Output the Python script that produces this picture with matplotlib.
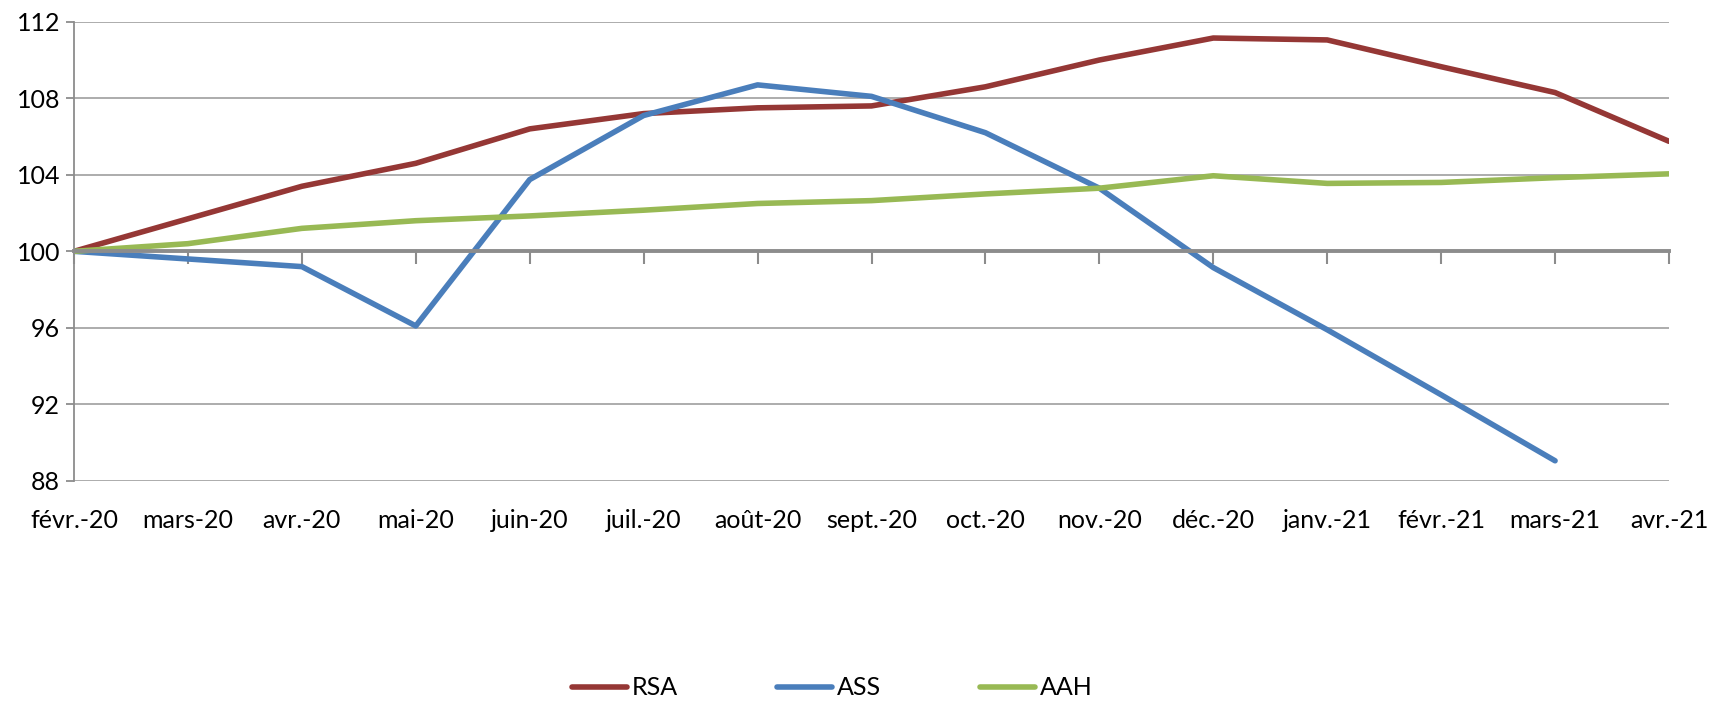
import matplotlib
matplotlib.use("Agg")
import matplotlib.pyplot as plt
import numpy as np

# mois en abscisse
mois = ["févr.-20", "mars-20", "avr.-20", "mai-20", "juin-20", "juil.-20", "août-20",
        "sept.-20", "oct.-20", "nov.-20", "déc.-20", "janv.-21", "févr.-21", "mars-21", "avr.-21"]

# indices base 100 en février 2020
rsa = [100, 101.7, 103.4, 104.6, 106.4, 107.2, 107.5, 107.6, 108.6, 110.0, 111.15, 111.05, 109.65, 108.3, 105.75]
ass = [100, 99.6, 99.2, 96.1, 103.75, 107.1, 108.7, 108.1, 106.2, 103.3, 99.15, 95.9, 92.5, 89.05, np.nan]
aah = [100, 100.4, 101.2, 101.6, 101.85, 102.15, 102.5, 102.65, 103.0, 103.3, 103.95, 103.55, 103.6, 103.85, 104.05]

plt.rcParams['font.family'] = ['Lato', 'DejaVu Sans']

fig = plt.figure(figsize=(17.09, 7.02), dpi=100)
ax = fig.add_axes([0.0433, 0.315, 0.9333, 0.654])

x = np.arange(len(mois))
ax.plot(x, rsa, color="#953735", lw=4, label="RSA", solid_capstyle="round")
ax.plot(x, ass, color="#4A7EBB", lw=4, label="ASS", solid_capstyle="round")
ax.plot(x, aah, color="#98B954", lw=4, label="AAH", solid_capstyle="round")

ax.set_xlim(0, len(mois) - 1)
ax.set_ylim(88, 112)
ax.set_yticks(range(88, 113, 4))
ax.yaxis.grid(True, color="#A6A6A6", lw=1.3)
ax.set_axisbelow(True)

for s in ["top", "right"]:
    ax.spines[s].set_visible(False)
ax.spines["left"].set_color("#8C8C8C")
ax.spines["left"].set_linewidth(1.3)

# axe des x placé à 100, étiquettes en bas
ax.spines["bottom"].set_position(("data", 100))
ax.spines["bottom"].set_color("#8C8C8C")
ax.spines["bottom"].set_linewidth(2.8)
ax.set_xticks(x)
ax.tick_params(axis="x", direction="out", length=9, width=1.5, color="#8C8C8C", labelbottom=False)
ax.tick_params(axis="y", direction="out", length=6, width=1.3, color="#8C8C8C", labelsize=18, pad=4)

sec = ax.secondary_xaxis("bottom")
sec.set_xticks(x)
sec.set_xticklabels(mois)
sec.tick_params(length=0, labelsize=18, pad=20)
sec.spines["bottom"].set_visible(False)

fig.legend(loc="center", bbox_to_anchor=(0.487, 0.02), ncol=3, frameon=False,
           fontsize=18, handlelength=2.2, handletextpad=0.2, columnspacing=3.95)

fig.savefig("out.png", dpi=100)
